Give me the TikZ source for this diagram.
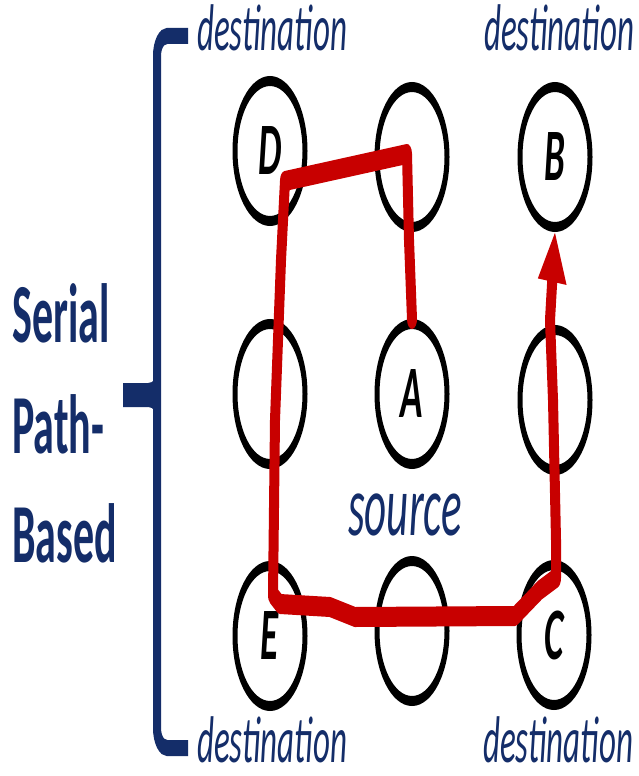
\documentclass[tikz,border=0pt]{standalone}
\usepackage{fontspec}
\setmainfont{Carlito}
\usetikzlibrary{arrows.meta}
\definecolor{navy}{RGB}{20,45,105}
\definecolor{pathred}{RGB}{200,0,0}
\newcommand{\tallword}[1]{\scalebox{1}[2]{#1}}
\tikzset{
  spot/.style={circle, draw=black, line width=5pt, minimum size=70pt, inner sep=0pt,
    font=\fontsize{37}{37}\selectfont\bfseries\itshape},
  tag/.style={text=navy, inner sep=0pt, anchor=base west,
    font=\fontsize{33}{33}\selectfont\itshape},
  title/.style={text=navy, inner sep=0pt, anchor=base west,
    font=\fontsize{42}{42}\selectfont\bfseries},
  route/.style={draw=pathred, line width=10pt, line join=round, line cap=round},
}
\begin{document}
\begin{tikzpicture}[x=1pt,y=-1pt]
\useasboundingbox[fill=white] (0,0) rectangle (639,776);

% labels, stretched twice vertically
\node[tag] (dtl) at (197,51) {\tallword{destination}};
\node[tag] (dtr) at (484,51) {\tallword{destination}};
\node[tag] (dbl) at (197,762) {\tallword{destination}};
\node[tag] (dbr) at (483,762) {\tallword{destination}};
\node[tag, font=\fontsize{43}{43}\selectfont\itshape] (src) at (348,535) {\tallword{source}};

\node[title] (t1) at (12,342) {\tallword{Serial}};
\node[title] (t2) at (12,453) {\tallword{Path-}};
\node[title] (t3) at (12,562) {\tallword{Based}};

% shapes are drawn at half height and stretched twice vertically
\begin{scope}[y=-0.5pt, transform canvas={yscale=2}]
  % grid of nodes
  \node[spot] (D) at (270,151) {D};
  \node[spot] (T) at (412,157) {};
  \node[spot] (B) at (555,157) {B};
  \node[spot] (L) at (270,394) {};
  \node[spot] (A) at (412,394) {A};
  \node[spot] (R) at (555,400) {};
  \node[spot] (E) at (270,636) {E};
  \node[spot] (M) at (412,631) {};
  \node[spot] (C) at (554,635) {C};

  % bracket
  \draw[navy, line width=8pt, rounded corners=10pt] (188,36) -| (157,395) |- (188,748);
  \fill[navy] (123,383) -- (148,383) .. controls (154,383) and (156,378) .. (157,372)
    -- (157,418) .. controls (156,412) and (154,407) .. (148,407) -- (123,407) -- cycle;

  % serial route from the source through D, E and C to B
  \draw[route, -{Triangle[length=25pt,width=27pt]}]
    (A.north) -- (409,240) -- (407,154) -- (285,181) -- (281,260) -- (275,420)
    -- (273,595) -- (280,604) -- (330,607) -- (355,617) -- (515,616)
    -- (540,590) -- (556,578) -- (556,540) -- (553,400) -- (550,320) -- (B.south);
\end{scope}
\end{tikzpicture}
\end{document}
